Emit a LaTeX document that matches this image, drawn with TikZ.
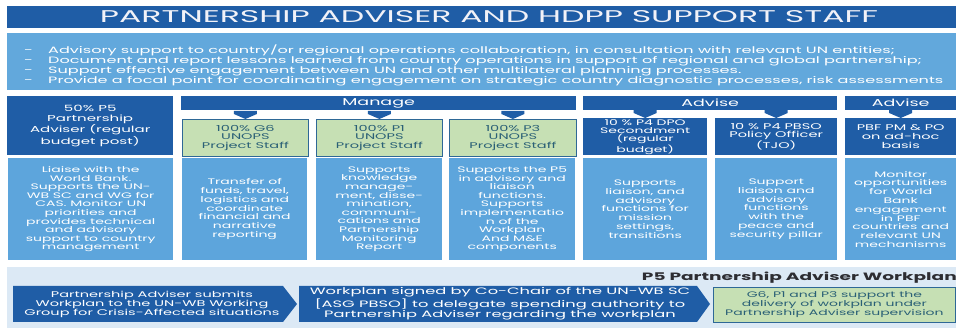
\documentclass[tikz,border=0pt]{standalone}
\usepackage{fontspec}
\usepackage{graphicx}
\setmainfont{Poppins}[FakeStretch=1.75]
\usetikzlibrary{calc}

\definecolor{navy}{RGB}{31,93,166}
\definecolor{sky}{RGB}{93,165,220}
\definecolor{skytop}{RGB}{98,168,220}
\definecolor{pale}{RGB}{220,233,245}
\definecolor{leaf}{RGB}{198,224,180}
\definecolor{leafedge}{RGB}{46,104,150}
\definecolor{leaftext}{RGB}{42,96,118}
\definecolor{ink}{RGB}{45,45,50}
\definecolor{snow}{RGB}{242,242,248}

\newcommand\fsz[2]{\fontsize{#1}{#2}\selectfont}

\begin{document}
\begin{tikzpicture}[x=1pt,y=-1pt,
  cell/.style={anchor=north west, inner sep=0pt, align=center, text=white},
  head/.style={cell, fill=navy, font=\fsz{8.3}{8.7}},
  leafbox/.style={cell, fill=leaf, draw=leafedge, line width=0.8pt, text=leaftext, font=\fsz{8.3}{8.8}},
  body/.style={cell, fill=sky, font=\fsz{8.0}{8.8}},
  bar/.style={cell, fill=navy, font=\fsz{10}{10}},
  pointer/.style={fill=navy}]

\useasboundingbox (0,0) rectangle (961,328);
\fill[white] (0,0) rectangle (961,328);

% title banner
\node[cell, fill=navy, minimum width=949pt, minimum height=22pt] (title) at (7,6) {};
\node[inner sep=0pt, text=snow] (titletext) at (489,17)
  {\resizebox{778pt}{12pt}{PARTNERSHIP ADVISER AND HDPP SUPPORT STAFF}};

% responsibilities
\node[cell, fill=skytop, minimum width=949pt, minimum height=57pt] (duties) at (7,33) {};
\node[anchor=north west, inner sep=0pt, align=left, text=white, font=\fsz{9.2}{10}] (dutylist) at (24,44.5)
  {\makebox[24pt][l]{-}Advisory support to country/or regional operations collaboration, in consultation with relevant UN entities;\\
   \makebox[24pt][l]{-}Document and report lessons learned from country operations in support of regional and global partnership;\\
   \makebox[24pt][l]{-}Support effective engagement between UN and other multilateral planning processes.\\
   \makebox[24pt][l]{-}Provide a focal point for coordinating engagement on strategic country diagnostic processes, risk assessments};

% P5 adviser column
\node[head, minimum width=166pt, minimum height=59pt, font=\fsz{8.6}{10}] (adviser) at (7,96)
  {50\% P5\\Partnership\\Adviser (regular\\budget post)};
\node[body, minimum width=165pt, minimum height=102pt, font=\fsz{8.0}{8.6}] (adviserrole) at (8,158)
  {Liaise with the\\World Bank.\\Supports the UN-\\WB SC and WG for\\CAS. Monitor UN\\priorities and\\provides technical\\and advisory\\support to country\\management};

% Manage group
\node[bar, minimum width=395pt, minimum height=14pt] (manage) at (181,96) {Manage};
\node[leafbox, minimum width=126pt, minimum height=37pt] (gsix) at (182,119)
  {100\% G6\\UNOPS\\Project Staff};
\node[body, minimum width=125pt, minimum height=102pt] (gsixrole) at (182,158)
  {Transfer of\\funds, travel,\\logistics and\\coordinate\\financial and\\narrative\\reporting};
\node[leafbox, minimum width=126pt, minimum height=37pt] (pone) at (316,119)
  {100\% P1\\UNOPS\\Project Staff};
\node[body, minimum width=126pt, minimum height=102pt, font=\fsz{8.0}{8.6}] (ponerole) at (316,158)
  {Supports\\knowledge\\manage-\\ment, disse-\\mination,\\communi-\\cations and\\Partnership\\Monitoring\\Report};
\node[leafbox, minimum width=127pt, minimum height=37pt] (pthree) at (449,119)
  {100\% P3\\UNOPS\\Project Staff};
\node[body, minimum width=126pt, minimum height=102pt, font=\fsz{8.0}{8.6}] (pthreerole) at (449,158)
  {Supports the P5\\in advisory and\\liaison\\functions.\\Supports\\implementatio\\n of the\\Workplan\\And M\&E\\components};

% Advise groups
\node[bar, minimum width=254pt, minimum height=14pt] (advise) at (583,96) {Advise};
\node[head, minimum width=124pt, minimum height=37pt, font=\fsz{8.0}{8.2}] (dpo) at (583,118)
  {10 \% P4 DPO\\Secondment\\(regular\\budget)};
\node[body, minimum width=124pt, minimum height=102pt] (dporole) at (583,158)
  {Supports\\liaison, and\\advisory\\functions for\\mission\\settings,\\transitions};
\node[head, minimum width=122pt, minimum height=37pt] (pbso) at (715,118)
  {10 \% P4 PBSO\\Policy Officer\\(TJO)};
\node[body, minimum width=122pt, minimum height=102pt] (pbsorole) at (715,158)
  {Support\\liaison and\\advisory\\functions\\with the\\peace and\\security pillar};
\node[bar, minimum width=111pt, minimum height=14pt] (advisepbf) at (845,96) {Advise};
\node[head, minimum width=111pt, minimum height=37pt] (pbf) at (845,118)
  {PBF PM \& PO\\on ad-hoc\\basis};
\node[body, minimum width=111pt, minimum height=102pt] (pbfrole) at (845,158)
  {Monitor\\opportunities\\for World\\Bank\\engagement\\in PBF\\countries and\\relevant UN\\mechanisms};

% drop pointers from the group bars
\newcommand\droppointer[1]{%
  \fill[pointer] ($(#1.north)+(-11.5,-8)$) -- ++(23,0) -- ++(0,3)
    -- (#1.north) -- ($(#1.north)+(-11.5,-5)$) -- cycle;}
\droppointer{gsix}
\droppointer{pone}
\droppointer{pthree}
\droppointer{dpo}
\droppointer{pbso}
\droppointer{pbf}

% workplan process
\fill[pale] (7,267) rectangle (956,328);
\node[anchor=east, inner sep=0pt, text=ink, font=\bfseries\fsz{10.6}{11}] (workplan) at (957,278)
  {P5 Partnership Adviser Workplan};
\fill[navy] (13,286) -- (283,286) -- (297,304) -- (283,322) -- (13,322) -- cycle;
\node[inner sep=0pt, align=center, text=white, font=\fsz{8.3}{9}] (submit) at (152,304)
  {Partnership Adviser submits\\Workplan to the UN-WB Working\\Group for Crisis-Affected situations};
\fill[navy] (299,286) -- (697,286) -- (710,304) -- (697,322) -- (299,322) -- cycle;
\node[inner sep=0pt, align=center, text=white, font=\fsz{9.3}{9}] (signed) at (500,304)
  {Workplan signed by Co-Chair of the UN-WB SC\\{[}ASG PBSO{]} to delegate spending authority to\\Partnership Adviser regarding the workplan};
\node[cell, fill=leaf, draw=leafedge, line width=0.8pt, text=leaftext, font=\fsz{8}{9},
  minimum width=242pt, minimum height=35pt] (deliver) at (713,287)
  {G6, P1 and P3 support the\\delivery of workplan under\\Partnership Adviser supervision};
\end{tikzpicture}
\end{document}
